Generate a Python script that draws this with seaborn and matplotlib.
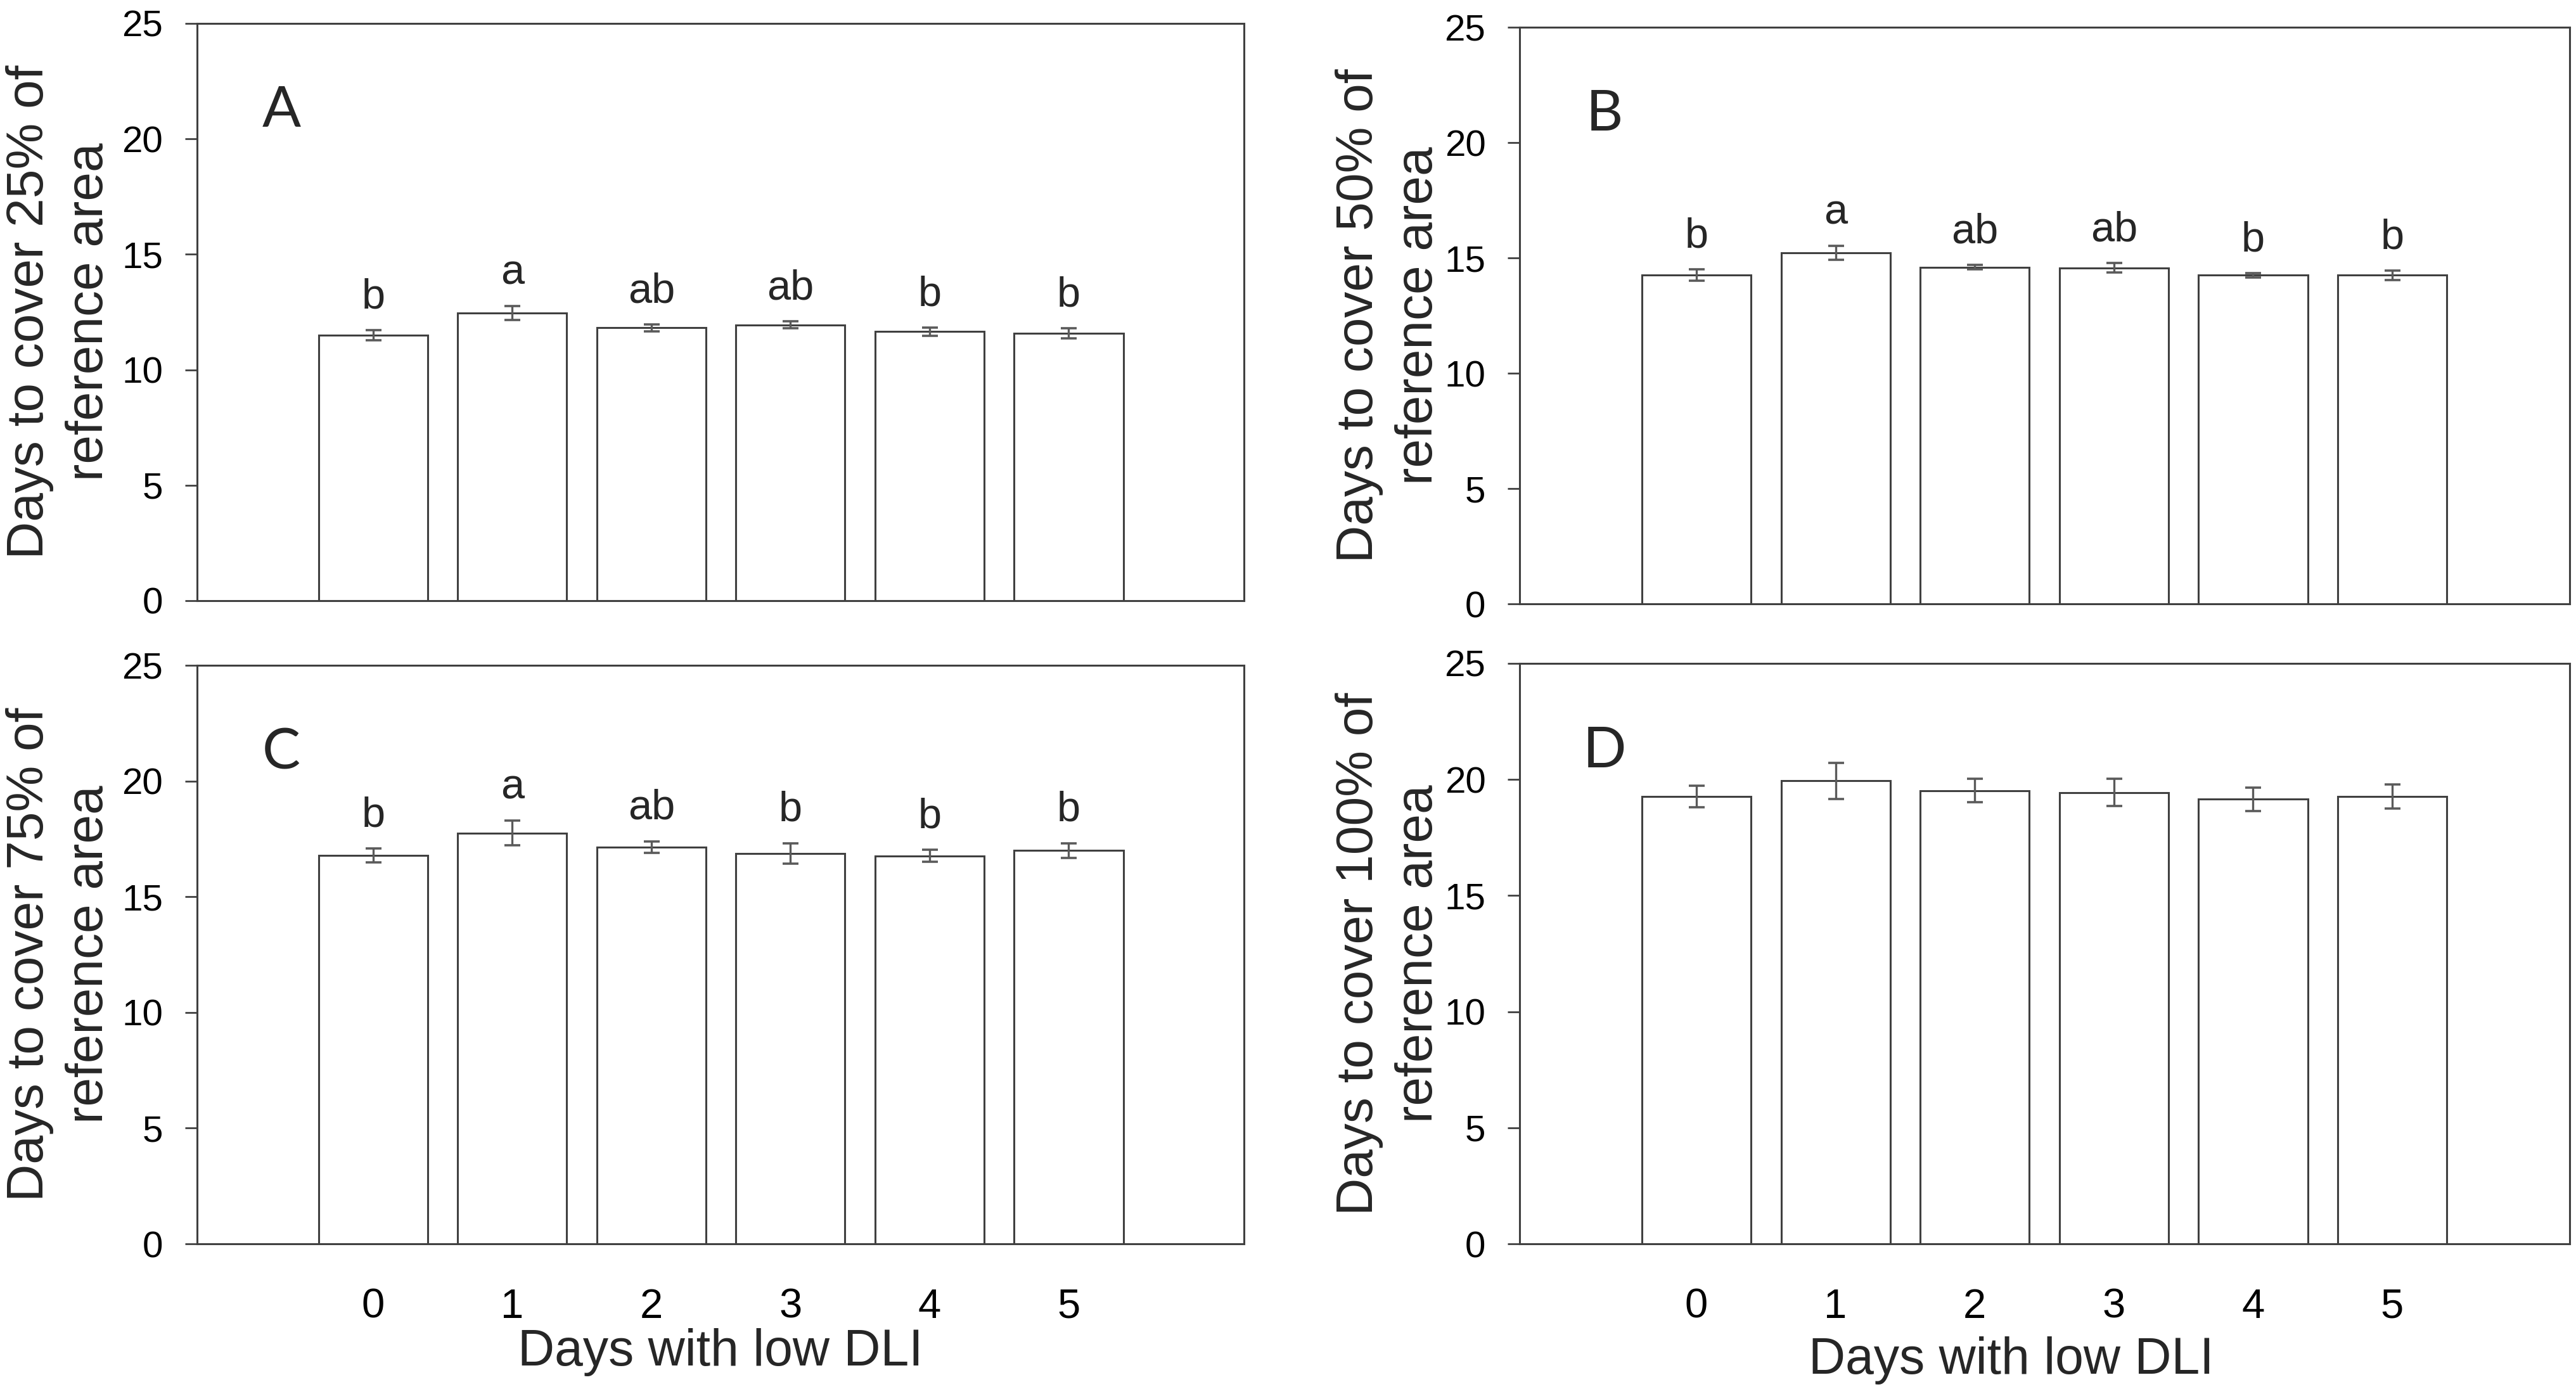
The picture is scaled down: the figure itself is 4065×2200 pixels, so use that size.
import pandas as pd
import matplotlib.pyplot as plt
import seaborn as sns

days = ["0", "1", "2", "3", "4", "5"]

mean_25 = [11.50, 12.45, 11.82, 11.95, 11.65, 11.57]
se_25 = [0.22, 0.30, 0.15, 0.14, 0.17, 0.22]
letters_25 = ["b", "a", "ab", "ab", "b", "b"]

mean_50 = [14.25, 15.23, 14.60, 14.57, 14.25, 14.25]
se_50 = [0.25, 0.30, 0.10, 0.20, 0.10, 0.20]
letters_50 = ["b", "a", "ab", "ab", "b", "b"]

mean_75 = [16.78, 17.75, 17.15, 16.87, 16.77, 17.00]
se_75 = [0.30, 0.53, 0.25, 0.45, 0.26, 0.32]
letters_75 = ["b", "a", "ab", "b", "b", "b"]

mean_100 = [19.27, 19.94, 19.52, 19.44, 19.15, 19.27]
se_100 = [0.47, 0.78, 0.50, 0.58, 0.50, 0.52]
letters_100 = ["", "", "", "", "", ""]

panel_names = ["A", "B", "C", "D"]
ylabels = ["Days to cover 25% of\nreference area",
           "Days to cover 50% of\nreference area",
           "Days to cover 75% of\nreference area",
           "Days to cover 100% of\nreference area"]
xlabel = "Days with low DLI"

sns.set_style("white")
plt.rcParams["font.family"] = ["Liberation Sans", "DejaVu Sans"]
panel_font = ["Lato", "Liberation Sans", "DejaVu Sans"]

edge = "#404040"

fig = plt.figure(figsize=(40.66, 22), dpi=100)
rects = [[0.0765, 0.5691, 0.4063, 0.4141],
         [0.5898, 0.5668, 0.4075, 0.4136],
         [0.0765, 0.1077, 0.4063, 0.4150],
         [0.5898, 0.1077, 0.4075, 0.4164]]
means = [mean_25, mean_50, mean_75, mean_100]
ses = [se_25, se_50, se_75, se_100]
letters = [letters_25, letters_50, letters_75, letters_100]

for k in range(4):
    ax = fig.add_axes(rects[k])
    df = pd.DataFrame({"day": days, "mean": means[k], "se": ses[k]})
    sns.barplot(data=df, x="day", y="mean", color="white", saturation=1,
                edgecolor=edge, linewidth=2.2, width=0.784, errorbar=None, ax=ax)
    ax.errorbar(range(len(days)), df["mean"], yerr=df["se"], fmt="none",
                ecolor="#5a5a5a", elinewidth=2.4, capsize=9, capthick=2.6, zorder=5)
    for i, lab in enumerate(letters[k]):
        if lab:
            ax.text(i, means[k][i] + ses[k][i] + 0.95, lab, ha="center",
                    va="baseline", fontsize=48)
    ax.text(-0.66, 21.2, panel_names[k], ha="center", va="center",
            fontsize=65, family=panel_font)

    ax.set_ylim(0, 25)
    ax.set_yticks([0, 5, 10, 15, 20, 25])
    if k % 2 == 0:
        ax.set_xlim(-1.265, 6.26)
    else:
        ax.set_xlim(-1.27, 6.275)
    for s in ax.spines.values():
        s.set_visible(True)
        s.set_color(edge)
        s.set_linewidth(2.2)
    ax.tick_params(axis="y", left=True, length=13.7, width=2, pad=25,
                   color=edge, labelsize=42, labelcolor="black")
    ax.tick_params(axis="x", length=0, pad=50, labelsize=47, labelcolor="black")

    ax.set_ylabel(ylabels[k], fontsize=59, linespacing=1.3)
    if k % 2 == 0:
        ax.yaxis.set_label_coords(-0.080, 0.5)
    else:
        ax.yaxis.set_label_coords(-0.073, 0.5)

    if k < 2:
        ax.tick_params(axis="x", labelbottom=False)
        ax.set_xlabel("")
    else:
        ax.set_xlabel(xlabel, fontsize=58)
        if k == 2:
            ax.xaxis.set_label_coords(0.5, -0.1457)
        else:
            ax.xaxis.set_label_coords(0.468, -0.159)

fig.savefig("out.png", dpi=100, facecolor="white")
